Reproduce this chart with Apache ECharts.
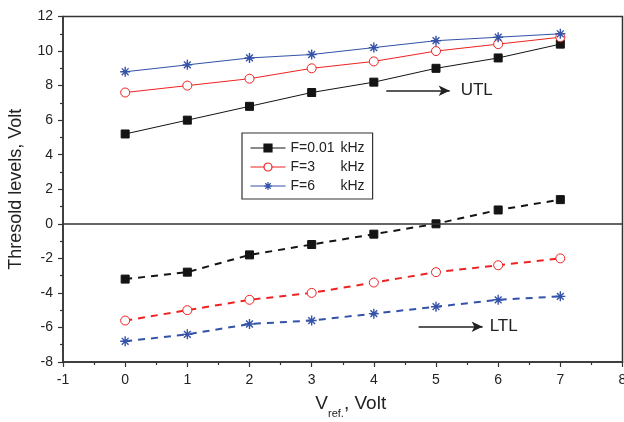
<!DOCTYPE html>
<html>
<head>
<meta charset="utf-8">
<script src="https://cdn.jsdelivr.net/npm/echarts@6/dist/echarts.min.js"></script>
<style>
html,body{margin:0;padding:0;background:#fff;}
#chart{width:624px;height:422px;}
</style>
</head>
<body>
<div id="chart"></div>
<script>
const vref = [0, 1, 2, 3, 4, 5, 6, 7];
const utl001 = [5.2, 6.0, 6.8, 7.6, 8.2, 9.0, 9.6, 10.4];
const utl3 = [7.6, 8.0, 8.4, 9.0, 9.4, 10.0, 10.4, 10.8];
const utl6 = [8.8, 9.2, 9.6, 9.8, 10.2, 10.6, 10.8, 11.0];
const ltl001 = [-3.2, -2.8, -1.8, -1.2, -0.6, 0.0, 0.8, 1.4];
const ltl3 = [-5.6, -5.0, -4.4, -4.0, -3.4, -2.8, -2.4, -2.0];
const ltl6 = [-6.8, -6.4, -5.8, -5.6, -5.2, -4.8, -4.4, -4.2];
const legendNames = ['F=0.01', 'F=3', 'F=6'];
const legendUnit = 'kHz';
const annotations = [
  {label: 'UTL', from: [4.2, 7.7], to: [5.22, 7.7], gap: 11},
  {label: 'LTL', from: [4.72, -5.96], to: [5.75, -5.96], gap: 7}
];

const FONT = '"Liberation Sans", Arial, sans-serif';
const BLACK = '#141414', RED = '#ee2222', BLUE = '#3352a8';
const star = 'path://M5,0 L5,10 M0,5 L10,5 M1.6,1.6 L8.4,8.4 M8.4,1.6 L1.6,8.4';

function pairs(ys) { return vref.map((x, i) => [x, ys[i]]); }

function mk(name, ys, color, symbol, size, dashed, hollow) {
  return {
    name: name,
    type: 'line',
    data: pairs(ys),
    symbol: symbol,
    symbolSize: size,
    showAllSymbol: true,
    z: 3,
    lineStyle: {color: color, width: dashed ? 2 : 1, type: dashed ? [7, 6] : 'solid'},
    itemStyle: {
      color: hollow ? '#fff' : color,
      borderColor: color,
      borderWidth: symbol === star ? 1.4 : 1
    },
    emphasis: {disabled: true},
    animation: false
  };
}

const series = [
  mk(legendNames[0], utl001, BLACK, 'rect', 8, false, false),
  mk(legendNames[1], utl3, RED, 'circle', 9, false, true),
  mk(legendNames[2], utl6, BLUE, star, 10, false, false),
  mk('L1', ltl001, BLACK, 'rect', 8, true, false),
  mk('L2', ltl3, RED, 'circle', 9, true, true),
  mk('L3', ltl6, BLUE, star, 10, true, false)
];

series.push({
  name: 'annot',
  type: 'line',
  data: [],
  markLine: {
    silent: true,
    animation: false,
    symbol: ['none', 'arrow'],
    symbolSize: [8, 11],
    lineStyle: {color: '#222', width: 1.5, type: 'solid'},
    label: {show: true, position: 'end', formatter: '{b}', color: '#222', fontSize: 17, fontFamily: FONT, distance: 11},
    data: annotations.map(a => [{name: a.label, coord: a.from, label: {distance: a.gap}}, {coord: a.to}])
  }
});
series.push({
  name: 'zero',
  type: 'line',
  data: [],
  markLine: {
    silent: true,
    animation: false,
    symbol: ['none', 'none'],
    label: {show: false},
    lineStyle: {color: '#333', width: 1.5, type: 'solid'},
    data: [{yAxis: 0}]
  }
});

const chart = echarts.init(document.getElementById('chart'));
chart.setOption({
  animation: false,
  backgroundColor: '#fff',
  textStyle: {fontFamily: FONT},
  grid: {left: 63, right: 1.5, top: 16.5, bottom: 60, containLabel: false, outerBoundsMode: 'none', show: true, borderColor: '#333', borderWidth: 1.5, backgroundColor: 'transparent'},
  legend: {
    data: legendNames,
    orient: 'vertical',
    left: 242,
    top: 133,
    itemWidth: 35,
    itemHeight: 10,
    itemGap: 5,
    padding: [8, 8, 6, 8],
    borderColor: '#333',
    borderWidth: 1.2,
    backgroundColor: '#fff',
    selectedMode: false,
    lineStyle: {width: 1},
    itemStyle: {borderWidth: 1.2},
    textStyle: {
      fontSize: 14, color: '#222', fontFamily: FONT,
      rich: {a: {width: 50, fontSize: 14, color: '#222', fontFamily: FONT}, b: {fontSize: 14, color: '#222', fontFamily: FONT}}
    },
    formatter: n => '{a|' + n + '}{b|' + legendUnit + '}'
  },
  xAxis: {
    type: 'value', min: -1, max: 8, interval: 1,
    name: '{v|V}{s|ref.}{v|, Volt}',
    nameLocation: 'middle', nameGap: 32,
    nameTextStyle: {
      fontFamily: FONT, color: '#222', padding: [0, 0, 0, 16],
      rich: {
        v: {fontSize: 19, color: '#222', fontFamily: FONT, verticalAlign: 'top', lineHeight: 22},
        s: {fontSize: 11, color: '#222', fontFamily: FONT, verticalAlign: 'top', padding: [14, 0, 0, 0], lineHeight: 22}
      }
    },
    axisLine: {show: true, onZero: false, lineStyle: {color: '#333', width: 1.5}},
    axisTick: {show: true, inside: false, length: 5, lineStyle: {color: '#333', width: 1.2}},
    minorTick: {show: true, splitNumber: 2, length: 3, lineStyle: {color: '#333', width: 1.2}},
    axisLabel: {fontSize: 14, color: '#222', margin: 11, fontFamily: FONT, hideOverlap: false},
    splitLine: {show: false}
  },
  yAxis: {
    type: 'value', min: -8, max: 12, interval: 2,
    name: 'Thresold levels, Volt',
    nameLocation: 'middle', nameGap: 38,
    nameTextStyle: {fontSize: 18, color: '#222', fontFamily: FONT},
    axisLine: {show: true, onZero: false, lineStyle: {color: '#333', width: 1.5}},
    axisTick: {show: true, inside: false, length: 5, lineStyle: {color: '#333', width: 1.2}},
    minorTick: {show: true, splitNumber: 2, length: 3, lineStyle: {color: '#333', width: 1.2}},
    axisLabel: {fontSize: 14, color: '#222', margin: 10, fontFamily: FONT},
    splitLine: {show: false}
  },
  series: series
});
</script>
</body>
</html>
